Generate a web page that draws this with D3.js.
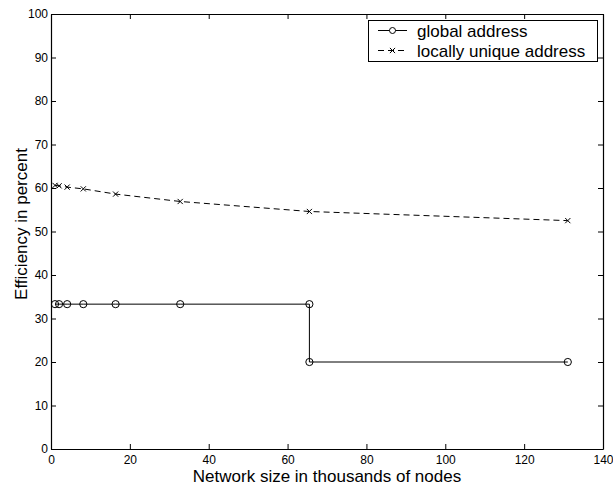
<!DOCTYPE html>
<html><head><meta charset="utf-8">
<script src="https://cdn.jsdelivr.net/npm/d3@7"></script>
<style>body{margin:0;background:#fff}svg{display:block}text{font-family:"Liberation Sans",Arial,sans-serif;fill:#000}</style>
</head><body>
<script>
const nodesK = [1.024, 2.048, 4.096, 8.192, 16.384, 32.768, 65.536, 131.072];
const globalX = [1.024, 2.048, 4.096, 8.192, 16.384, 32.768, 65.536, 65.536, 131.072];
const globalY = [33.3, 33.3, 33.3, 33.3, 33.3, 33.3, 33.3, 20, 20];
const localY = [60.6, 60.5, 60.2, 59.8, 58.6, 56.9, 54.6, 52.5];
const xTicks = [0, 20, 40, 60, 80, 100, 120, 140];
const yTicks = [0, 10, 20, 30, 40, 50, 60, 70, 80, 90, 100];
const legendLabels = ["global address", "locally unique address"];

const W = 613, H = 489;
const m = {l: 51, r: 10, t: 14, b: 40};
const svg = d3.select("body").append("svg").attr("width", W).attr("height", H);
const x = d3.scaleLinear().domain([0, 140]).range([m.l, W - m.r]);
const y = d3.scaleLinear().domain([0, 100]).range([H - m.b, m.t]);
const tl = 5;

const g = svg.append("g");
g.append("g").attr("transform", `translate(0,${y(0)})`)
  .call(d3.axisBottom(x).tickValues(xTicks).tickSizeInner(-tl).tickSizeOuter(0).tickPadding(6))
  .call(a => a.selectAll("text").attr("font-size", 12));
g.append("g").attr("transform", `translate(0,${y(100)})`)
  .call(d3.axisTop(x).tickValues(xTicks).tickSizeInner(-tl).tickSizeOuter(0).tickFormat(""));
g.append("g").attr("transform", `translate(${x(0)},0)`)
  .call(d3.axisLeft(y).tickValues(yTicks).tickSizeInner(-tl).tickSizeOuter(0).tickPadding(3))
  .call(a => a.selectAll("text").attr("font-size", 12));
g.append("g").attr("transform", `translate(${x(140)},0)`)
  .call(d3.axisRight(y).tickValues(yTicks).tickSizeInner(-tl).tickSizeOuter(0).tickFormat(""));
g.selectAll(".domain").attr("stroke", "#000").attr("stroke-width", 1.2);
g.selectAll(".tick line").attr("stroke", "#000");

// series: global address (solid, circles)
const lineG = d3.line().x((d, i) => x(globalX[i])).y(d => y(d));
svg.append("path").datum(globalY).attr("d", lineG).attr("fill", "none").attr("stroke", "#000").attr("stroke-width", 1);
svg.append("g").selectAll("circle").data(globalY).join("circle")
  .attr("cx", (d, i) => x(globalX[i])).attr("cy", d => y(d)).attr("r", 3.6)
  .attr("fill", "none").attr("stroke", "#000").attr("stroke-width", 1);

// series: locally unique address (dashed, crosses)
const lineL = d3.line().x((d, i) => x(nodesK[i])).y(d => y(d));
svg.append("path").datum(localY).attr("d", lineL).attr("fill", "none").attr("stroke", "#000")
  .attr("stroke-width", 1).attr("stroke-dasharray", "6,4");
const cr = 2.6;
const cross = (cx, cy) => `M${cx-cr},${cy-cr}L${cx+cr},${cy+cr}M${cx-cr},${cy+cr}L${cx+cr},${cy-cr}`;
svg.append("g").selectAll("path").data(localY).join("path")
  .attr("d", (d, i) => cross(x(nodesK[i]), y(d)))
  .attr("stroke", "#000").attr("stroke-width", 1);

// legend
const lg = svg.append("g");
lg.append("rect").attr("x", 368.5).attr("y", 20.5).attr("width", 229).attr("height", 41)
  .attr("fill", "#fff").attr("stroke", "#000");
lg.append("line").attr("x1", 378).attr("x2", 407).attr("y1", 30.5).attr("y2", 30.5).attr("stroke", "#000");
lg.append("circle").attr("cx", 392.5).attr("cy", 30.5).attr("r", 3).attr("fill", "#fff").attr("stroke", "#000");
lg.append("line").attr("x1", 378).attr("x2", 407).attr("y1", 50.5).attr("y2", 50.5).attr("stroke", "#000").attr("stroke-dasharray", "6,4");
lg.append("path").attr("d", cross(392.5, 50.5)).attr("stroke", "#000");
lg.selectAll("text.l").data(legendLabels).join("text").attr("class", "l")
  .attr("x", 417).attr("y", (d, i) => 36.5 + i * 20).attr("font-size", 17).text(d => d);

// titles
svg.append("text").attr("x", x(70)).attr("y", 482).attr("text-anchor", "middle").attr("font-size", 17)
  .text("Network size in thousands of nodes");
svg.append("text").attr("transform", `translate(27,224) rotate(-90)`).attr("text-anchor", "middle")
  .attr("font-size", 17).text("Efficiency in percent");
</script>
</body></html>
